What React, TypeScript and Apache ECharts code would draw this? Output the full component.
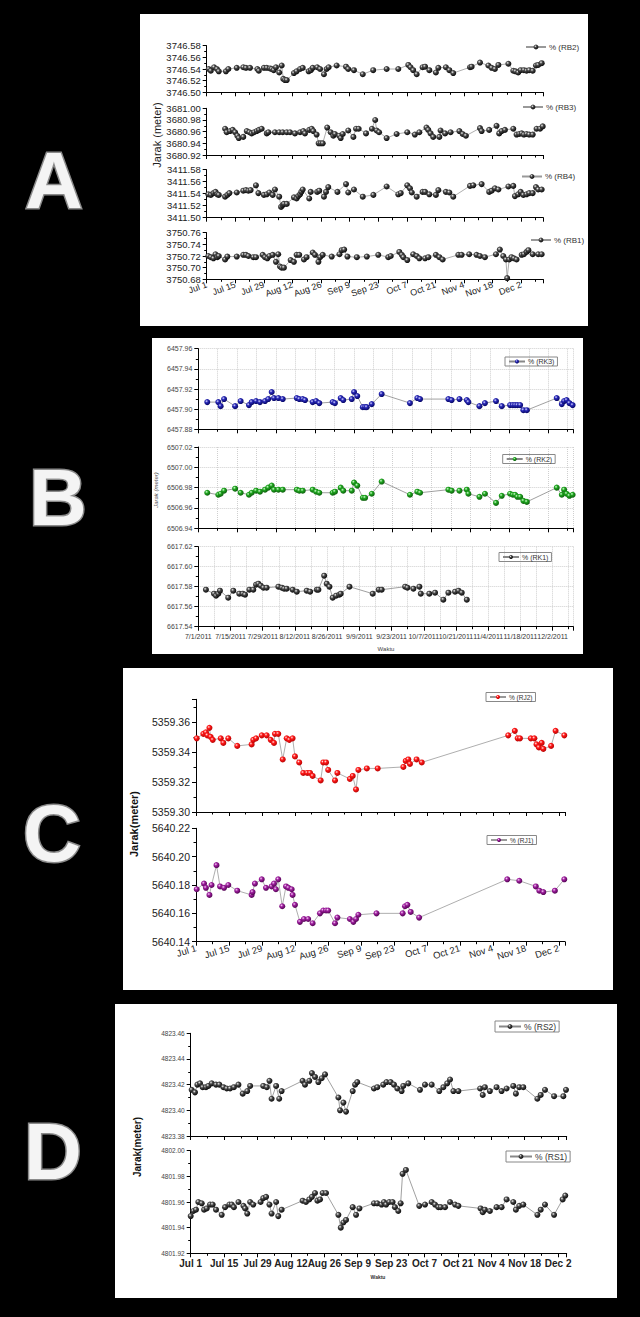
import React, { useEffect, useRef } from 'react';
import * as echarts from 'echarts';

// ---------- tick labels ----------
const DATE_LABELS = ['Jul 1', 'Jul 15', 'Jul 29', 'Aug 12', 'Aug 26', 'Sep 9', 'Sep 23', 'Oct 7', 'Oct 21', 'Nov 4', 'Nov 18', 'Dec 2'];
const NUM_DATE_LABELS = ['7/1/2011', '7/15/2011', '7/29/2011', '8/12/2011', '8/26/2011', '9/9/2011', '9/23/2011', '10/7/2011', '10/21/2011', '11/4/2011', '11/18/2011', '12/2/2011'];

// ---------- data: [days since Jul 1 2011, distance in metres] ----------
const rb2: number[][] = [[1,3746.540],[2,3746.537],[3.6,3746.543],[5,3746.540],[5.9,3746.536],[9.4,3746.536],[10.6,3746.540],[14.7,3746.542],[17.9,3746.543],[19.2,3746.542],[21.2,3746.542],[24.8,3746.540],[25.5,3746.537],[28,3746.542],[29.4,3746.542],[31,3746.541],[31.8,3746.540],[32.8,3746.538],[33.9,3746.543],[35.5,3746.534],[36.7,3746.546],[37.5,3746.523],[38.3,3746.521],[39.2,3746.521],[42.7,3746.533],[44,3746.536],[45.7,3746.540],[47,3746.542],[49.9,3746.536],[51,3746.538],[51.9,3746.542],[54.1,3746.543],[55.5,3746.540],[57.4,3746.531],[58.7,3746.540],[59.7,3746.543],[63.6,3746.546],[68.2,3746.544],[69.3,3746.540],[72.1,3746.538],[76.4,3746.531],[81.5,3746.538],[88.1,3746.540],[93.8,3746.540],[98.7,3746.547],[99.8,3746.543],[101.1,3746.538],[102.8,3746.531],[105.7,3746.543],[106.9,3746.544],[109,3746.538],[112.2,3746.534],[113.4,3746.542],[117.1,3746.543],[118.8,3746.538],[120.7,3746.533],[128.9,3746.543],[129.7,3746.544],[133.8,3746.551],[137.9,3746.546],[139.5,3746.542],[141.1,3746.540],[142.8,3746.547],[147.7,3746.549],[150.1,3746.537],[151.2,3746.536],[152.5,3746.534],[153.7,3746.538],[155.3,3746.538],[156.6,3746.537],[157.9,3746.538],[159.6,3746.537],[161.2,3746.546],[162.3,3746.547],[164,3746.550]];

const rb3: number[][] = [[9,3680.965],[9.8,3680.959],[11.4,3680.961],[12.7,3680.963],[13.9,3680.959],[15,3680.953],[15.7,3680.949],[17.9,3680.951],[19.6,3680.961],[20.9,3680.959],[22,3680.957],[23.2,3680.959],[24.5,3680.961],[25.6,3680.963],[26.9,3680.965],[29.4,3680.957],[30.2,3680.959],[33.4,3680.959],[35.5,3680.959],[37.2,3680.959],[39.2,3680.959],[40.8,3680.959],[43.2,3680.957],[45.7,3680.959],[47.3,3680.961],[48.1,3680.957],[50.2,3680.963],[51.4,3680.965],[52.2,3680.961],[53.8,3680.955],[54.8,3680.940],[55.8,3680.940],[56.8,3680.940],[59,3680.967],[60.7,3680.959],[62,3680.953],[62.8,3680.956],[64.9,3680.953],[65.6,3680.949],[66.6,3680.956],[69.3,3680.962],[71.8,3680.951],[73.1,3680.965],[74.4,3680.965],[78,3680.957],[80.9,3680.965],[82.5,3680.980],[83.2,3680.962],[84.4,3680.959],[88.1,3680.949],[93,3680.956],[98.2,3680.959],[101.9,3680.955],[104.1,3680.959],[107.6,3680.967],[108.5,3680.963],[109.6,3680.957],[110.9,3680.951],[113.9,3680.951],[114.5,3680.962],[116.7,3680.957],[119.4,3680.959],[123.7,3680.961],[125.3,3680.956],[126.9,3680.953],[133.8,3680.966],[134.6,3680.961],[138.3,3680.963],[141.9,3680.970],[143.2,3680.957],[144.4,3680.961],[146,3680.963],[150.1,3680.965],[151.7,3680.955],[153,3680.956],[154.2,3680.957],[155.3,3680.955],[156.6,3680.956],[157.9,3680.955],[159.6,3680.955],[161.5,3680.965],[163.2,3680.965],[164.5,3680.969]];

const rb4: number[][] = [[0.8,3411.539],[2,3411.538],[3.3,3411.541],[4.3,3411.543],[5.2,3411.539],[5.9,3411.538],[9,3411.535],[10.1,3411.538],[11.1,3411.541],[14.7,3411.542],[17.9,3411.545],[19.2,3411.546],[20.4,3411.545],[21.5,3411.546],[24.1,3411.554],[25.3,3411.541],[28,3411.538],[29.4,3411.539],[30.7,3411.542],[32.3,3411.538],[33.4,3411.547],[35.5,3411.535],[36.4,3411.518],[37.2,3411.521],[37.8,3411.523],[39.2,3411.523],[42.7,3411.534],[44,3411.532],[44.8,3411.536],[45.7,3411.539],[46.3,3411.543],[47,3411.547],[50.2,3411.532],[50.9,3411.543],[54.1,3411.543],[55.1,3411.545],[57.4,3411.535],[58.4,3411.543],[59.5,3411.551],[64,3411.543],[68.2,3411.556],[69.3,3411.542],[72.1,3411.547],[76.4,3411.535],[81.6,3411.538],[88.1,3411.552],[93.8,3411.539],[95,3411.541],[98.2,3411.554],[99.5,3411.549],[100.4,3411.542],[102.8,3411.535],[105.7,3411.543],[106.9,3411.543],[109,3411.539],[112.2,3411.538],[113.4,3411.546],[117.1,3411.543],[118.8,3411.542],[120.7,3411.535],[128.9,3411.553],[130.5,3411.554],[134.6,3411.556],[138.3,3411.543],[139.5,3411.545],[141.1,3411.549],[142.8,3411.547],[147.7,3411.552],[150.1,3411.553],[150.9,3411.536],[152.5,3411.539],[153.7,3411.543],[155,3411.538],[156.6,3411.539],[157.9,3411.541],[159.6,3411.541],[161.2,3411.551],[162.3,3411.547],[164,3411.547]];

const rb1: number[][] = [[0.8,3750.720],[2,3750.718],[3.3,3750.716],[4.3,3750.723],[5.2,3750.718],[5.9,3750.720],[9,3750.714],[10.1,3750.719],[14.7,3750.719],[17.9,3750.722],[19.2,3750.722],[20.4,3750.720],[22.8,3750.718],[24.1,3750.718],[27.4,3750.722],[28.5,3750.718],[29.7,3750.716],[30.7,3750.720],[32.3,3750.722],[33.9,3750.710],[35,3750.723],[35.9,3750.702],[36.7,3750.700],[37.8,3750.700],[41.1,3750.713],[42.7,3750.710],[44,3750.722],[45.3,3750.722],[47.6,3750.714],[48.9,3750.718],[51.9,3750.726],[53,3750.722],[54.7,3750.710],[55.5,3750.718],[56.8,3750.722],[61.2,3750.719],[65,3750.723],[66.1,3750.730],[67.3,3750.731],[68.9,3750.719],[73.5,3750.718],[78.4,3750.719],[84,3750.722],[88.9,3750.718],[90.1,3750.720],[94.3,3750.727],[95.5,3750.722],[96.3,3750.718],[98.2,3750.713],[101.1,3750.723],[102.8,3750.720],[104.1,3750.716],[106.9,3750.716],[108.5,3750.718],[112.2,3750.722],[113.9,3750.718],[115.5,3750.714],[123.2,3750.722],[124.8,3750.722],[128.5,3750.723],[132.1,3750.722],[133.8,3750.720],[136.2,3750.718],[141.6,3750.723],[143.5,3750.731],[145.2,3750.720],[146.5,3750.714],[147.1,3750.682],[148.1,3750.714],[149.2,3750.718],[150.4,3750.716],[151.7,3750.714],[154.2,3750.722],[155.3,3750.723],[156.6,3750.727],[157.5,3750.730],[159.6,3750.723],[162.3,3750.723],[164,3750.723]];

const rk3: number[][] = [[3.9,6457.907],[8.7,6457.907],[9.7,6457.903],[11.2,6457.910],[16,6457.903],[18.4,6457.908],[22,6457.904],[23.2,6457.907],[25.1,6457.908],[26.8,6457.907],[29,6457.908],[30.4,6457.910],[31.9,6457.917],[32.9,6457.911],[34.8,6457.911],[36.7,6457.910],[42.8,6457.911],[43.9,6457.910],[45.4,6457.910],[46.4,6457.909],[49.7,6457.907],[51.2,6457.908],[52.6,6457.906],[58.4,6457.907],[59.4,6457.906],[61.9,6457.911],[63,6457.909],[66.7,6457.910],[67.7,6457.917],[69.1,6457.913],[71.5,6457.902],[72.5,6457.902],[73.2,6457.902],[75.4,6457.905],[79.7,6457.915],[92,6457.906],[95.2,6457.911],[96.4,6457.910],[108.7,6457.910],[110.1,6457.909],[113.5,6457.910],[116.7,6457.909],[117.4,6457.907],[122.2,6457.903],[124.6,6457.906],[129.4,6457.908],[131.9,6457.903],[135.5,6457.904],[136.7,6457.904],[137.7,6457.904],[138.7,6457.904],[139.9,6457.904],[141.3,6457.899],[142.8,6457.899],[155.8,6457.911],[158,6457.905],[159,6457.908],[160.1,6457.909],[161.3,6457.906],[162.7,6457.904]];

const rk2: number[][] = [[3.9,6506.975],[8.7,6506.973],[9.7,6506.974],[11.2,6506.977],[16,6506.979],[18.4,6506.975],[22,6506.973],[23.2,6506.975],[25.1,6506.977],[26.8,6506.976],[29,6506.978],[30.4,6506.980],[31.9,6506.982],[32.9,6506.978],[34.8,6506.978],[36.7,6506.978],[42.8,6506.978],[43.9,6506.977],[45.4,6506.977],[49.7,6506.978],[51.2,6506.976],[52.6,6506.975],[58.4,6506.975],[59.4,6506.976],[61.9,6506.980],[63,6506.977],[66.7,6506.977],[67.7,6506.985],[69.1,6506.982],[71.5,6506.970],[72.5,6506.970],[75.4,6506.974],[79.7,6506.986],[92,6506.973],[95.2,6506.976],[96.4,6506.975],[108.7,6506.978],[110.1,6506.977],[113.5,6506.977],[116.7,6506.978],[117.4,6506.974],[122.2,6506.971],[124.6,6506.974],[129.4,6506.965],[131.9,6506.972],[135.5,6506.974],[136.7,6506.973],[137.7,6506.973],[138.7,6506.971],[139.9,6506.971],[141.3,6506.967],[142.8,6506.966],[155.8,6506.980],[158,6506.973],[159,6506.978],[160.1,6506.974],[161.3,6506.972],[162.7,6506.973]];

const rk1: number[][] = [[3.3,6617.577],[6.8,6617.573],[7.7,6617.571],[8.7,6617.573],[9.4,6617.576],[13,6617.569],[15.2,6617.576],[17.8,6617.573],[19.3,6617.573],[20.3,6617.572],[22.2,6617.577],[23.9,6617.577],[25.1,6617.582],[26.1,6617.583],[27.1,6617.581],[28.3,6617.579],[29.7,6617.579],[34.8,6617.580],[36.3,6617.579],[37.3,6617.578],[38.4,6617.578],[41,6617.577],[42.8,6617.575],[47.1,6617.576],[48.6,6617.575],[51.5,6617.577],[52.2,6617.577],[54.7,6617.591],[55.8,6617.583],[57,6617.580],[58.4,6617.569],[59.9,6617.571],[61.3,6617.572],[61.9,6617.573],[65.7,6617.580],[75.8,6617.573],[78.4,6617.577],[79.7,6617.577],[89.9,6617.580],[90.9,6617.579],[93.5,6617.578],[96.1,6617.580],[96.7,6617.573],[100.4,6617.573],[102.9,6617.574],[106.5,6617.567],[108.7,6617.574],[111.6,6617.575],[113.1,6617.576],[114.5,6617.574],[116.7,6617.567]];

const rj2: number[][] = [[0.3,5359.349],[3.1,5359.352],[4.2,5359.353],[4.8,5359.351],[5.7,5359.356],[6.2,5359.350],[7.1,5359.348],[10.5,5359.349],[11.6,5359.346],[13.7,5359.349],[17.5,5359.344],[23.6,5359.345],[24.3,5359.348],[25.5,5359.349],[27.9,5359.351],[30,5359.351],[31.7,5359.348],[33.1,5359.346],[33.5,5359.352],[34.9,5359.352],[36.8,5359.335],[38.5,5359.349],[39.6,5359.348],[41,5359.349],[42,5359.337],[43.8,5359.333],[45.5,5359.326],[47.2,5359.326],[48.4,5359.326],[49.5,5359.324],[52.9,5359.321],[54,5359.333],[55.2,5359.333],[56.1,5359.328],[59,5359.321],[60,5359.326],[65.3,5359.322],[66.5,5359.324],[67.9,5359.315],[68.9,5359.328],[72.5,5359.329],[77.1,5359.329],[88,5359.330],[89,5359.334],[90.1,5359.335],[90.8,5359.332],[93.6,5359.335],[95.8,5359.333],[132.5,5359.351],[135.3,5359.354],[136.5,5359.349],[137.5,5359.349],[142.1,5359.349],[143.6,5359.349],[144.5,5359.345],[145.5,5359.343],[146.7,5359.346],[147.4,5359.342],[150.7,5359.344],[152.6,5359.354],[156.3,5359.351]];

const rj1: number[][] = [[0.3,5640.177],[3.4,5640.181],[4.2,5640.178],[5.7,5640.173],[6.6,5640.180],[8.7,5640.194],[10.2,5640.179],[11.9,5640.178],[13.7,5640.180],[17.5,5640.176],[23.6,5640.173],[24,5640.175],[25,5640.181],[27.9,5640.184],[29.7,5640.178],[32.1,5640.179],[33.1,5640.181],[33.9,5640.177],[34.9,5640.184],[36.6,5640.165],[38.2,5640.179],[39.2,5640.178],[40.6,5640.177],[41,5640.173],[42,5640.166],[44.1,5640.154],[45.8,5640.156],[47.6,5640.156],[49.5,5640.153],[52.6,5640.160],[54,5640.162],[55.2,5640.162],[56.1,5640.162],[59,5640.153],[60,5640.157],[65.3,5640.156],[66.8,5640.154],[67.9,5640.156],[68.9,5640.159],[76.6,5640.160],[87.7,5640.160],[88.7,5640.165],[89.7,5640.166],[91.1,5640.161],[94.7,5640.157],[132.1,5640.184],[137.2,5640.183],[144.2,5640.179],[145.7,5640.176],[147.4,5640.175],[152.3,5640.176],[156.3,5640.184]];

const rs2: number[][] = [[0.4,4823.416],[1.8,4823.414],[2.8,4823.420],[3.9,4823.421],[5,4823.418],[6.4,4823.418],[7.4,4823.419],[8.8,4823.421],[10.6,4823.420],[12,4823.420],[13.7,4823.418],[15.1,4823.417],[16.5,4823.417],[18.1,4823.418],[20,4823.420],[21.8,4823.413],[23.7,4823.415],[24.9,4823.419],[30.4,4823.419],[31.9,4823.418],[33,4823.423],[33.9,4823.409],[35.8,4823.419],[37.1,4823.409],[38.1,4823.415],[46.9,4823.423],[47.9,4823.420],[49.7,4823.423],[50.8,4823.429],[52.1,4823.426],[53.5,4823.422],[54.9,4823.425],[56.3,4823.428],[61.9,4823.410],[62.6,4823.400],[64,4823.406],[65.1,4823.399],[67.9,4823.415],[68.9,4823.420],[69.8,4823.422],[76.8,4823.417],[78.2,4823.418],[80.7,4823.420],[82.1,4823.422],[83.8,4823.422],[85.2,4823.420],[86.6,4823.417],[88.4,4823.415],[89.1,4823.419],[91.2,4823.421],[96.1,4823.416],[98.2,4823.420],[101,4823.420],[104.2,4823.415],[105.9,4823.418],[107.5,4823.421],[108.7,4823.424],[110.1,4823.415],[112.2,4823.415],[121.3,4823.417],[122.4,4823.412],[123.3,4823.418],[125.4,4823.415],[128.2,4823.418],[130.3,4823.415],[132.4,4823.417],[135.2,4823.419],[136.3,4823.413],[137.7,4823.418],[139.4,4823.418],[145.3,4823.409],[146.7,4823.412],[148.5,4823.416],[152.3,4823.411],[156.2,4823.411],[157.3,4823.416]];

const rs1: number[][] = [[0,4801.949],[1.1,4801.953],[2.2,4801.954],[3.2,4801.960],[4.6,4801.959],[5.6,4801.954],[6.7,4801.955],[8.1,4801.958],[9.2,4801.958],[10.6,4801.954],[13,4801.950],[14.4,4801.956],[16.2,4801.958],[17.2,4801.958],[18.1,4801.956],[20,4801.960],[22.1,4801.957],[22.8,4801.955],[23.7,4801.951],[24.9,4801.960],[26.2,4801.958],[29.3,4801.960],[30.4,4801.963],[31.6,4801.964],[33,4801.958],[33.9,4801.951],[35.8,4801.960],[36.7,4801.949],[38.1,4801.954],[46.9,4801.961],[48.3,4801.960],[49.7,4801.962],[50.8,4801.964],[52.1,4801.967],[53.1,4801.961],[54.2,4801.962],[55.3,4801.967],[56.7,4801.967],[61.9,4801.950],[62.9,4801.940],[64,4801.944],[65.1,4801.946],[67.9,4801.956],[69.3,4801.950],[70.7,4801.955],[76.8,4801.959],[78.2,4801.959],[80,4801.958],[81,4801.960],[81.9,4801.958],[83.2,4801.960],[84.6,4801.960],[85.6,4801.956],[87,4801.953],[88,4801.959],[88.8,4801.982],[90.2,4801.985],[95.8,4801.957],[98.2,4801.958],[101,4801.960],[102.4,4801.958],[103.8,4801.956],[104.8,4801.956],[106.6,4801.956],[108.7,4801.960],[110.8,4801.958],[112.2,4801.957],[121.5,4801.955],[122.4,4801.952],[123.3,4801.954],[125.4,4801.953],[128.2,4801.956],[130.3,4801.956],[132.4,4801.962],[135.2,4801.960],[136.3,4801.954],[137.7,4801.957],[139.4,4801.958],[145.3,4801.950],[146.7,4801.954],[148.5,4801.958],[152.3,4801.950],[155.9,4801.962],[157,4801.965]];

// ---------- styling ----------
const FONT = '"Liberation Sans", Arial, Helvetica, sans-serif';

function ball(hi: string, mid: string, lo: string) {
  return {
    type: 'radial', x: 0.38, y: 0.35, r: 0.7,
    colorStops: [{ offset: 0, color: hi }, { offset: 0.35, color: mid }, { offset: 1, color: lo }],
  };
}
const BLACK = ball('#f2f2f2', '#4a4a4a', '#000000');
const BLUE = ball('#d8d8ff', '#2a2ab8', '#00005a');
const GREEN = ball('#d8ffd8', '#22a822', '#075507');
const RED = ball('#ffe0e0', '#ff1a1a', '#b00000');
const PURPLE = ball('#f6d0f6', '#a020a0', '#4a004a');

type Style = {
  yFont: number; yColor: string; xFont: number; xColor: string; xWeight: string; rotate: number;
  xMargin: number; grid: boolean; legendFont: number; box: boolean; symbol: number; line: string;
  itemWidth: number; itemHeight: number;
};
const SA: Style = { yFont: 9.5, yColor: '#222', xFont: 9, xColor: '#222', xWeight: 'normal', rotate: 20, xMargin: 5, grid: false, legendFont: 8, box: false, symbol: 6, line: '#999', itemWidth: 20, itemHeight: 6 };
const SB: Style = { yFont: 7, yColor: '#444', xFont: 7, xColor: '#333', xWeight: 'normal', rotate: 0, xMargin: 6, grid: true, legendFont: 7, box: true, symbol: 6, line: '#888', itemWidth: 16, itemHeight: 5 };
const SC: Style = { yFont: 10.5, yColor: '#222', xFont: 9.5, xColor: '#222', xWeight: 'normal', rotate: 17, xMargin: 6, grid: false, legendFont: 6.5, box: true, symbol: 6, line: '#999', itemWidth: 16, itemHeight: 5 };
const SD: Style = { yFont: 6.5, yColor: '#444', xFont: 10, xColor: '#222', xWeight: 'bold', rotate: 0, xMargin: 5, grid: false, legendFont: 8.5, box: true, symbol: 6, line: '#888', itemWidth: 22, itemHeight: 6 };

type Sub = {
  name: string; data: number[][]; color: any; s: Style;
  left: number; top: number; width: number; height: number;
  ymin: number; ymax: number; xmax: number; xInt: number; labels: string[] | null;
  lg: [number, number];
};

const subs: Sub[] = [
  // Panel A
  { name: '% (RB2)', data: rb2, color: BLACK, s: SA, left: 206.7, top: 45.7, width: 336.6, height: 46.6, ymin: 3746.50, ymax: 3746.58, xmax: 164.8, xInt: 14, labels: null, lg: [525, 43] },
  { name: '% (RB3)', data: rb3, color: BLACK, s: SA, left: 206.7, top: 108.3, width: 336.6, height: 46.7, ymin: 3680.92, ymax: 3681.00, xmax: 164.8, xInt: 14, labels: null, lg: [522, 103] },
  { name: '% (RB4)', data: rb4, color: BLACK, s: SA, left: 206.7, top: 169.7, width: 336.6, height: 48, ymin: 3411.50, ymax: 3411.58, xmax: 164.8, xInt: 14, labels: null, lg: [521, 172.5] },
  { name: '% (RB1)', data: rb1, color: BLACK, s: SA, left: 206.7, top: 232.7, width: 336.6, height: 46.6, ymin: 3750.68, ymax: 3750.76, xmax: 164.8, xInt: 14, labels: DATE_LABELS, lg: [530, 236] },
  // Panel B
  { name: '% (RK3)', data: rk3, color: BLUE, s: SB, left: 198.3, top: 348.7, width: 375, height: 80.6, ymin: 6457.88, ymax: 6457.96, xmax: 163, xInt: 16.9, labels: null, lg: [505, 357] },
  { name: '% (RK2)', data: rk2, color: GREEN, s: SB, left: 198.3, top: 447, width: 375, height: 81.3, ymin: 6506.94, ymax: 6507.02, xmax: 163, xInt: 16.9, labels: null, lg: [502.7, 454.5] },
  { name: '% (RK1)', data: rk1, color: BLACK, s: SB, left: 198.3, top: 546.7, width: 375, height: 80, ymin: 6617.54, ymax: 6617.62, xmax: 163, xInt: 14, labels: NUM_DATE_LABELS, lg: [499, 552.5] },
  // Panel C
  { name: '% (RJ2)', data: rj2, color: RED, s: SC, left: 196, top: 699.3, width: 369, height: 112.7, ymin: 5359.30, ymax: 5359.375, xmax: 156.6, xInt: 14, labels: null, lg: [486, 692.5] },
  { name: '% (RJ1)', data: rj1, color: PURPLE, s: SC, left: 196, top: 828.3, width: 369, height: 113.4, ymin: 5640.14, ymax: 5640.22, xmax: 156.6, xInt: 14, labels: DATE_LABELS, lg: [487, 835.5] },
  // Panel D
  { name: '% (RS2)', data: rs2, color: BLACK, s: SD, left: 190.7, top: 1033.3, width: 376, height: 102.7, ymin: 4823.38, ymax: 4823.46, xmax: 157.6, xInt: 14, labels: null, lg: [495, 1021] },
  { name: '% (RS1)', data: rs1, color: BLACK, s: SD, left: 190.7, top: 1150.7, width: 376, height: 102.6, ymin: 4801.92, ymax: 4802.00, xmax: 157.6, xInt: 14, labels: DATE_LABELS, lg: [506, 1151] },
];

function dateFmt(labels: string[] | null) {
  return (v: number) => {
    if (!labels) return '';
    const k = v / 14;
    const r = Math.round(k);
    return Math.abs(k - r) < 1e-6 && r >= 0 && r < labels.length ? labels[r] : '';
  };
}
function yFmt(v: number) {
  const k = v / 0.02;
  return Math.abs(k - Math.round(k)) < 1e-3 ? v.toFixed(2) : '';
}

function buildOption() {
  const grid = subs.map((g) => ({ left: g.left, top: g.top, width: g.width, height: g.height, containLabel: false }));
  const xAxis = subs.map((g, i) => ({
    type: 'value', gridIndex: i, min: 0, max: g.xmax, interval: g.xInt,
    axisLine: { show: true, onZero: false, lineStyle: { color: '#000', width: 1 } },
    axisTick: { show: true, length: 4, lineStyle: { color: '#000', width: 1 } },
    minorTick: { show: true, splitNumber: 2, length: 2.5, lineStyle: { color: '#000', width: 1 } },
    axisLabel: {
      show: !!g.labels, formatter: dateFmt(g.labels), rotate: g.s.rotate, margin: g.s.xMargin,
      fontSize: g.s.xFont, color: g.s.xColor, fontWeight: g.s.xWeight, fontFamily: FONT,
      showMinLabel: true, showMaxLabel: false,
    },
    splitLine: { show: g.s.grid, lineStyle: { color: '#cfcfcf', type: 'dotted', width: 1 } },
    minorSplitLine: { show: g.s.grid, lineStyle: { color: '#cfcfcf', type: 'dotted', width: 1 } },
  }));
  const yAxis = subs.map((g, i) => ({
    type: 'value', gridIndex: i, min: g.ymin, max: g.ymax, interval: 0.02,
    axisLine: { show: true, onZero: false, lineStyle: { color: '#000', width: 1 } },
    axisTick: { show: true, length: 4, lineStyle: { color: '#000', width: 1 } },
    minorTick: { show: true, splitNumber: 2, length: 2.5, lineStyle: { color: '#000', width: 1 } },
    axisLabel: { formatter: yFmt, fontSize: g.s.yFont, color: g.s.yColor, fontFamily: FONT, margin: 6 },
    splitLine: { show: g.s.grid, lineStyle: { color: '#cfcfcf', type: 'dotted', width: 1 } },
  }));
  const series = subs.map((g, i) => ({
    type: 'line', name: g.name, xAxisIndex: i, yAxisIndex: i, data: g.data,
    symbol: 'circle', symbolSize: g.s.symbol, showSymbol: true,
    itemStyle: { color: g.color },
    lineStyle: { color: g.s.line, width: 0.8 },
    emphasis: { disabled: true },
    z: 3,
  }));
  const legend = subs.map((g) => ({
    data: [g.name], left: g.lg[0], top: g.lg[1], orient: 'horizontal', selectedMode: false,
    itemWidth: g.s.itemWidth, itemHeight: g.s.itemHeight, itemGap: 2,
    padding: g.s.box ? [1, 3, 1, 3] : 0,
    borderColor: '#888', borderWidth: g.s.box ? 1 : 0, borderRadius: 0,
    textStyle: { fontSize: g.s.legendFont, color: '#333', fontFamily: FONT, padding: [0, 0, 0, -2] },
  }));

  const panelRect = (x: number, y: number, w: number, h: number) => ({
    type: 'rect', shape: { x, y, width: w, height: h }, style: { fill: '#fff' }, z: -10, silent: true,
  });
  const letter = (t: string, x: number, y: number) => ({
    type: 'text', x, y, z: 10, silent: true,
    style: {
      text: t, fill: '#f4f4f4', stroke: '#8a8a8a', lineWidth: 3,
      font: 'bold 80px "Liberation Sans", Arial, sans-serif', align: 'center', verticalAlign: 'middle',
    },
  });
  const label = (t: string, x: number, y: number, font: string, color: string, rot: number) => ({
    type: 'text', x, y, rotation: rot, z: 10, silent: true,
    style: { text: t, fill: color, font, align: 'center', verticalAlign: 'middle' },
  });

  const graphic = [
    panelRect(140, 14, 448, 312),
    panelRect(152, 338, 431, 316),
    panelRect(123, 668, 490, 322),
    panelRect(115, 1004, 502, 294),
    letter('A', 54, 180),
    letter('B', 58, 497),
    letter('C', 52, 833),
    letter('D', 53, 1151),
    label('Jarak (meter)', 157, 135, `11px ${FONT}`, '#222', Math.PI / 2),
    label('Jarak (meter)', 156, 490, `italic 6px ${FONT}`, '#555', Math.PI / 2),
    label('Waktu', 386, 649, `6px ${FONT}`, '#444', 0),
    label('Jarak(meter)', 133.5, 824, `bold 11px ${FONT}`, '#111', Math.PI / 2),
    label('Jarak(meter)', 137.5, 1147, `bold 10px ${FONT}`, '#111', Math.PI / 2),
    label('Waktu', 378, 1277, `bold 5px ${FONT}`, '#333', 0),
  ];

  return {
    animation: false,
    backgroundColor: '#000',
    textStyle: { fontFamily: FONT },
    grid, xAxis, yAxis, series, legend, graphic,
  };
}

export default function App() {
  const ref = useRef<HTMLDivElement>(null);
  useEffect(() => {
    if (!ref.current) return;
    const chart = echarts.init(ref.current, null, { renderer: 'svg' });
    chart.setOption(buildOption() as any);
    return () => chart.dispose();
  }, []);
  return <div ref={ref} style={{ position: 'absolute', left: 0, top: 0, width: 640, height: 1317 }} />;
}
